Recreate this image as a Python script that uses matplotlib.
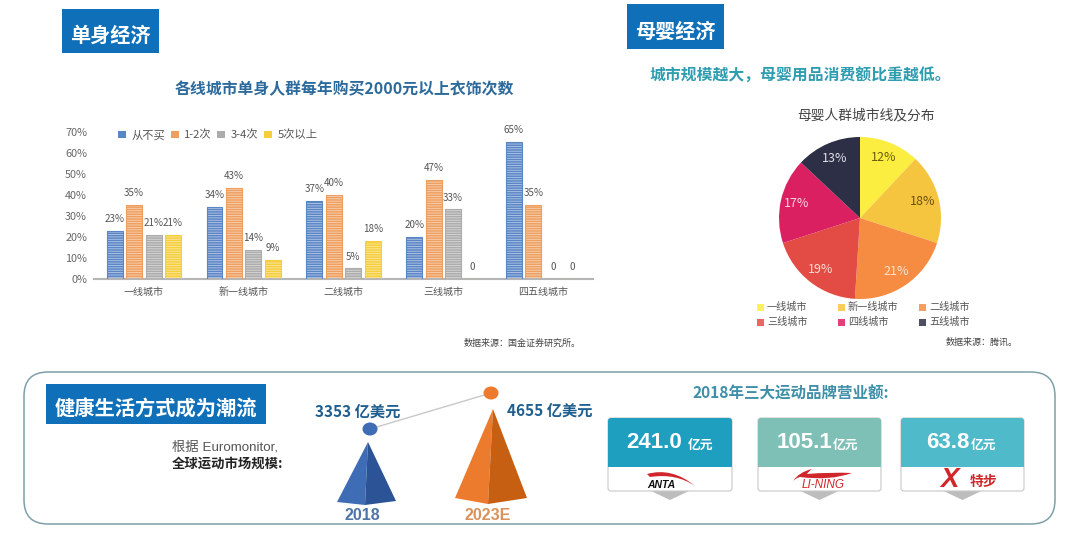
import math
import matplotlib
matplotlib.use("Agg")
import matplotlib.pyplot as plt
from matplotlib.patches import Rectangle, FancyBboxPatch, Polygon, Ellipse, PathPatch, Patch
from matplotlib.path import Path

plt.rcParams['font.family'] = ['Noto Sans CJK SC', 'DejaVu Sans']
plt.rcParams['hatch.linewidth'] = 0.6

# ---------- data ----------
cities = ['一线城市', '新一线城市', '二线城市', '三线城市', '四五线城市']
series_names = ['从不买', '1-2次', '3-4次', '5次以上']
never = [23, 34, 37, 20, 65]
once_twice = [35, 43, 40, 47, 35]
three_four = [21, 14, 5, 33, 0]
five_plus = [21, 9, 18, 0, 0]
bar_colors = ['#5B86C6', '#EE9F5F', '#ACACAC', '#F6CE3B']
yticks = [0, 10, 20, 30, 40, 50, 60, 70]

pie_labels = ['一线城市', '新一线城市', '二线城市', '三线城市', '四线城市', '五线城市']
pie_values = [12, 18, 21, 19, 17, 13]
pie_colors = ['#FBEE40', '#F6C540', '#F68C42', '#E34C45', '#DB2062', '#2C2F45']
pie_text_colors = ['#6b5a10', '#6b4f10', '#fbe3d0', '#fbdcd8', '#fbd5e0', '#e0e0ea']

market_years = ['2018', '2023E']
market_values = ['3353 亿美元', '4655 亿美元']
brand_values = ['241.0', '105.1', '63.8']
brand_colors = ['#1F9FBF', '#7FC0B6', '#4FBACA']

W, H = 1080, 539
fig = plt.figure(figsize=(W / 100, H / 100), dpi=100, facecolor='white')

bg = fig.add_axes([0, 0, 1, 1])
bg.set_xlim(0, W)
bg.set_ylim(H, 0)
bg.axis('off')


def header(x0, y0, x1, y1, s, size, ty):
    bg.add_patch(Rectangle((x0, y0), x1 - x0, y1 - y0, fc='#0F6FB8', ec='none'))
    bg.text((x0 + x1) / 2, ty, s, color='white', fontsize=size,
            fontweight='bold', ha='center', va='center')


header(62, 9, 159, 53, '单身经济', 14.5, 35.5)
header(627, 4, 724, 49, '母婴经济', 14.5, 31.5)
bg.text(344, 89, '各线城市单身人群每年购买2000元以上衣饰次数', color='#2C6A9C', fontsize=11.4,
        fontweight='bold', ha='center', va='center')
bg.text(800, 76, '城市规模越大，母婴用品消费额比重越低。', color='#2F9DB0', fontsize=11.4,
        fontweight='bold', ha='center', va='center')
bg.text(866, 115, '母婴人群城市线及分布', color='#444444', fontsize=9.9, ha='center', va='center')
bg.text(522, 343, '数据来源：国金证券研究所。', color='#444444', fontsize=6.5, ha='center', va='center')
bg.text(982, 342, '数据来源：腾讯。', color='#444444', fontsize=6.5, ha='center', va='center')

# ---------- bar chart ----------
ax = fig.add_axes([94 / W, 1 - 279 / H, 499 / W, 147.5 / H], facecolor='none')
all_series = [never, once_twice, three_four, five_plus]
step = 0.195
for i, (vals, c, name) in enumerate(zip(all_series, bar_colors, series_names)):
    pos = [k + (i - 1.5) * step for k in range(len(cities))]
    bars = ax.bar(pos, vals, width=0.16, color=c, edgecolor=(1, 1, 1, 0.55), hatch='-------',
                  linewidth=0, zorder=2)
    ax.bar(pos, vals, width=0.16, facecolor='none', edgecolor=c, linewidth=0.8, zorder=3)
    ax.bar_label(bars, labels=[f'{v}%' if v else '0' for v in vals], padding=5,
                 fontsize=7.1, color='#555555', zorder=4)
ax.set_xlim(-0.5, 4.5)
ax.set_ylim(0, 70)
ax.set_yticks(yticks)
ax.set_yticklabels([f'{v}%' for v in yticks], fontsize=7.8, color='#666666')
ax.set_xticks(range(len(cities)))
ax.set_xticklabels(cities, fontsize=7.2, color='#555555')
ax.tick_params(length=0, axis='both')
ax.tick_params(axis='x', pad=6)
ax.tick_params(axis='y', pad=5)
for s in ['top', 'left', 'right']:
    ax.spines[s].set_visible(False)
ax.spines['bottom'].set_color('#B5B5B5')
ax.spines['bottom'].set_linewidth(1.5)
handles = [Patch(facecolor=c, edgecolor='none') for c in bar_colors]
ax.legend(handles, series_names, ncol=4, loc='center', bbox_to_anchor=(0.248, 0.976),
          frameon=False, fontsize=8.1, labelcolor='#555555', handlelength=0.7,
          handleheight=0.7, handletextpad=0.5, columnspacing=0.5, borderpad=0)

# ---------- pie chart ----------
R = 81
cx, cy = 860, 218
pie_ax = fig.add_axes([(cx - R) / W, 1 - (cy + R) / H, 2 * R / W, 2 * R / H])
wedges, texts = pie_ax.pie(pie_values, colors=pie_colors, startangle=90, counterclock=False,
                           radius=1.0, wedgeprops={'linewidth': 0})
pie_ax.set_xlim(-1, 1)
pie_ax.set_ylim(-1, 1)
cum = 0
for v, tc in zip(pie_values, pie_text_colors):
    a = math.radians(90 - (cum + v / 2) * 3.6)
    cum += v
    pie_ax.text(0.8 * math.cos(a), 0.8 * math.sin(a), f'{v}%', color=tc, fontsize=9,
                ha='center', va='center')
# pie legend, three evenly spaced columns
for i, (lab, c) in enumerate(zip(pie_labels, pie_colors)):
    lx = 757 + 81 * (i % 3)
    ly = 307 + 15 * (i // 3)
    bg.add_patch(Rectangle((lx, ly - 3.5), 7, 7, fc=c, ec='none', alpha=0.85))
    bg.text(lx + 10, ly, lab, color='#555555', fontsize=7.3, ha='left', va='center')

# ---------- bottom panel ----------
frame = FancyBboxPatch((24, 372), 1031, 152, boxstyle='round,pad=0,rounding_size=24',
                       fc='none', ec='#7F9FAA', lw=1.1)
bg.add_patch(frame)
header(46, 384, 266, 424, '健康生活方式成为潮流', 14.6, 409)
bg.text(172, 447, '根据 Euromonitor,', color='#555555', fontsize=9.6, ha='left', va='center',
        family=['Liberation Sans', 'Noto Sans CJK SC'])
bg.text(172, 464, '全球运动市场规模:', color='#222222', fontsize=9.6, fontweight='bold',
        ha='left', va='center')

# pyramids
bg.add_patch(Polygon([(368, 442), (337, 502), (365, 505)], fc='#3F6DB5', ec='none'))
bg.add_patch(Polygon([(368, 442), (365, 505), (396, 501)], fc='#2B5395', ec='none'))
bg.add_patch(Polygon([(493, 409), (455, 498), (488, 504)], fc='#EC7B2E', ec='none'))
bg.add_patch(Polygon([(493, 409), (488, 504), (527, 498)], fc='#C65F12', ec='none'))
bg.plot([370, 491], [429, 393], color='#C8C8C8', lw=1, zorder=1)
bg.add_patch(Ellipse((370, 429), 15, 13, fc='#3F6DB5', ec='none', zorder=2))
bg.add_patch(Ellipse((491, 393), 15, 13, fc='#EC7B2E', ec='none', zorder=2))
bg.text(358, 412, market_values[0], color='#1F5F8F', fontsize=11, fontweight='bold', ha='center', va='center')
bg.text(550, 411, market_values[1], color='#1F5F8F', fontsize=11, fontweight='bold', ha='center', va='center')
bg.text(362, 516, market_years[0], color='#4F74A8', fontsize=11.5, fontweight='bold', ha='center', va='center',
        family=['Liberation Sans', 'Noto Sans CJK SC'])
bg.text(488, 516, market_years[1], color='#D9925C', fontsize=11.5, fontweight='bold', ha='center', va='center',
        family=['Liberation Sans', 'Noto Sans CJK SC'])

bg.text(791, 394, '2018年三大运动品牌营业额:', color='#3F8FA8', fontsize=11.2, fontweight='bold',
        ha='center', va='center')

card_x = [(608, 732), (758, 881), (901, 1024)]
value_x = [654, 804, 948]
unit_x = [701, 846, 984]
for (x0, x1), val, col, vx, ux in zip(card_x, brand_values, brand_colors, value_x, unit_x):
    xm = (x0 + x1) / 2
    bg.add_patch(Polygon([(xm - 19, 491), (xm + 19, 491), (xm, 500)], fc='#BDBDBD', ec='none'))
    bg.add_patch(FancyBboxPatch((x0 + 3, 421), x1 - x0 - 6, 67, boxstyle='round,pad=3',
                                fc='white', ec='#C8C8C8', lw=0.8))
    bg.add_patch(FancyBboxPatch((x0 + 3, 421), x1 - x0 - 6, 43, boxstyle='round,pad=3',
                                fc=col, ec='none'))
    bg.add_patch(Rectangle((x0, 455), x1 - x0, 12, fc=col, ec='none'))
    bg.text(vx, 442, val, color='white', fontsize=16, fontweight='bold', ha='center', va='center',
            family=['Liberation Sans', 'Noto Sans CJK SC'])
    bg.text(ux, 445, '亿元', color='white', fontsize=9.2, fontweight='bold', ha='center', va='center')


# brand marks
def swoosh(pts, color):
    codes = [Path.MOVETO] + [Path.CURVE3] * (len(pts) - 2) + [Path.CLOSEPOLY]
    bg.add_patch(PathPatch(Path(pts, codes), fc=color, ec='none'))


swoosh([(647, 474), (672, 467), (695, 486), (676, 473), (650, 477), (647, 474)], '#D1262B')
bg.text(661, 485, 'ANTA', color='#111111', fontsize=7.5, fontweight='bold', style='italic',
        ha='center', va='center', family=['Liberation Sans'])
swoosh([(793, 481), (799, 472), (812, 469), (808, 472), (807, 474), (830, 472), (852, 473),
        (830, 481), (800, 477), (796, 478), (793, 481)], '#D1262B')
bg.text(823, 484.5, 'LI-NING', color='#D1262B', fontsize=8.5, ha='center', va='center',
        style='italic', family=['Liberation Sans'])
bg.text(950, 480, 'X', color='#D1262B', fontsize=20, fontweight='bold', style='italic',
        ha='center', va='center', family=['Liberation Sans'])
bg.text(984, 482, '特步', color='#D1262B', fontsize=10, fontweight='bold', style='italic',
        ha='center', va='center')

fig.savefig('out.png', dpi=100)
